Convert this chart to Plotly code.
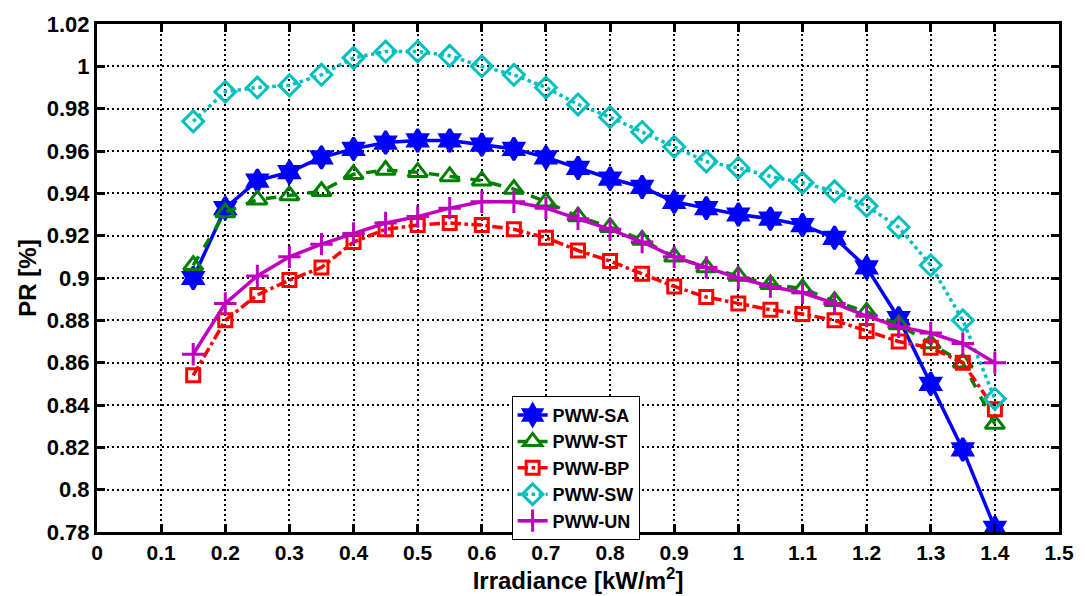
import plotly.graph_objects as go

irradiance = [0.15, 0.2, 0.25, 0.3, 0.35, 0.4, 0.45, 0.5, 0.55, 0.6, 0.65, 0.7, 0.75,
              0.8, 0.85, 0.9, 0.95, 1.0, 1.05, 1.1, 1.15, 1.2, 1.25, 1.3, 1.35, 1.4]

pww_sa = [0.900, 0.933, 0.946, 0.950, 0.957, 0.961, 0.964, 0.965, 0.965, 0.963, 0.961, 0.957, 0.952,
          0.947, 0.943, 0.936, 0.933, 0.930, 0.928, 0.925, 0.919, 0.905, 0.881, 0.850, 0.819, 0.782]
pww_st = [0.906, 0.931, 0.937, 0.939, 0.941, 0.949, 0.951, 0.950, 0.948, 0.946, 0.942, 0.936, 0.929,
          0.924, 0.918, 0.910, 0.905, 0.901, 0.897, 0.895, 0.889, 0.884, 0.878, 0.869, 0.860, 0.831]
pww_bp = [0.854, 0.880, 0.892, 0.899, 0.905, 0.917, 0.923, 0.925, 0.926, 0.925, 0.923, 0.919, 0.913,
          0.908, 0.902, 0.896, 0.891, 0.888, 0.885, 0.883, 0.880, 0.875, 0.870, 0.867, 0.860, 0.838]
pww_sw = [0.974, 0.988, 0.990, 0.991, 0.996, 1.004, 1.007, 1.007, 1.005, 1.000, 0.996, 0.990, 0.982,
          0.976, 0.969, 0.962, 0.955, 0.952, 0.948, 0.945, 0.941, 0.934, 0.924, 0.906, 0.880, 0.843]
pww_un = [0.864, 0.888, 0.901, 0.910, 0.916, 0.921, 0.926, 0.929, 0.933, 0.936, 0.936, 0.933, 0.928,
          0.923, 0.917, 0.910, 0.905, 0.900, 0.896, 0.893, 0.888, 0.882, 0.877, 0.874, 0.869, 0.860]

x_ticks = [0, 0.1, 0.2, 0.3, 0.4, 0.5, 0.6, 0.7, 0.8, 0.9, 1.0, 1.1, 1.2, 1.3, 1.4, 1.5]
x_labels = ["0", "0.1", "0.2", "0.3", "0.4", "0.5", "0.6", "0.7", "0.8", "0.9", "1",
            "1.1", "1.2", "1.3", "1.4", "1.5"]
y_ticks = [0.78, 0.80, 0.82, 0.84, 0.86, 0.88, 0.90, 0.92, 0.94, 0.96, 0.98, 1.00, 1.02]
y_labels = ["0.78", "0.8", "0.82", "0.84", "0.86", "0.88", "0.9", "0.92", "0.94", "0.96",
            "0.98", "1", "1.02"]

series = [
    ("PWW-SA", pww_sa, "#0000FF", "solid", "hexagram", 17),
    ("PWW-ST", pww_st, "#008000", "dash", "triangle-up-open", 17),
    ("PWW-BP", pww_bp, "#FF0000", "dashdot", "square-open", 13),
    ("PWW-SW", pww_sw, "#00BFBF", "dot", "diamond-open", 16),
    ("PWW-UN", pww_un, "#BF00BF", "solid", "cross-thin-open", 16),
]

fig = go.Figure()
for name, vals, color, dash, sym, size in series:
    fig.add_trace(go.Scatter(
        x=irradiance, y=vals, name=name, mode="lines+markers",
        line=dict(color=color, width=3.5, dash=dash),
        marker=dict(symbol=sym, size=size, color=color,
                    line=dict(color=color, width=3)),
    ))

font_family = "Liberation Sans, Arial, sans-serif"
fig.update_layout(
    width=1086, height=596,
    margin=dict(l=97, r=24, t=18, b=64),
    paper_bgcolor="white", plot_bgcolor="white",
    font=dict(family=font_family, color="black", size=22, weight="bold"),
    showlegend=True,
    legend=dict(x=0.431, y=0.268, xanchor="left", yanchor="top",
                bgcolor="white", bordercolor="black", borderwidth=1,
                font=dict(family=font_family, size=18, weight="bold"), tracegroupgap=0,
                itemwidth=30),
)
fig.update_xaxes(
    range=[0, 1.5], tickvals=x_ticks, ticktext=x_labels,
    showgrid=True, gridcolor="black", griddash="2px,3px", gridwidth=1.5,
    showline=True, linecolor="black", linewidth=3, mirror="ticks",
    ticks="inside", ticklen=8, tickwidth=2.5, tickcolor="black",
    tickfont=dict(family=font_family, size=21, weight="bold"),
    title=dict(text="Irradiance [kW/m<sup>2</sup>]",
               font=dict(family=font_family, size=24, weight="bold"), standoff=2),
    zeroline=False,
)
fig.update_yaxes(
    range=[0.78, 1.02], tickvals=y_ticks, ticktext=y_labels,
    showgrid=True, gridcolor="black", griddash="2px,3px", gridwidth=1.5,
    showline=True, linecolor="black", linewidth=3, mirror="ticks",
    ticks="inside", ticklen=8, tickwidth=2.5, tickcolor="black",
    tickfont=dict(family=font_family, size=22, weight="bold"),
    title=dict(text="PR [%]", font=dict(family=font_family, size=24, weight="bold"), standoff=4),
    zeroline=False,
)

fig.write_html("out.html")
